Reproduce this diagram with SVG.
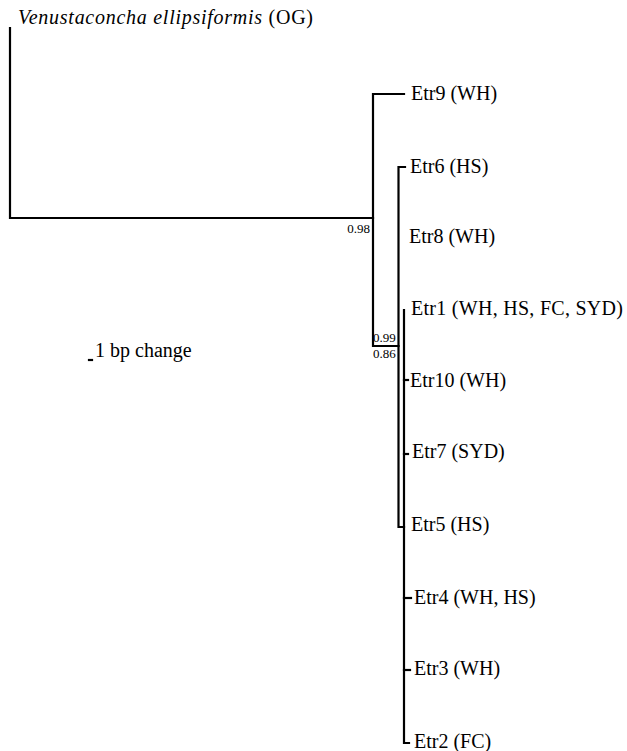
<svg xmlns="http://www.w3.org/2000/svg" width="627" height="751" viewBox="0 0 627 751">
<style>
.br{stroke:#000;stroke-width:2.2;fill:none;stroke-linecap:square}
text{font-family:'Liberation Serif','Times New Roman','DejaVu Serif',serif;fill:#000}
</style>
<rect width="627" height="751" fill="#fff"/>
<g id="connectors">
<path class="br" d="M10,28 V218 H373"/>
<path class="br" d="M404,94 H373 V346 H398.5"/>
<path class="br" d="M405,167 H398.5 V527 H404"/>
<path class="br" d="M404,310 V743 H409"/>
<path class="br" d="M404,380 H408"/>
<path class="br" d="M404,454 H408"/>
<path class="br" d="M404,598 H411"/>
<path class="br" d="M404,670 H410"/>
<path class="br" d="M89,360 H92"/>
</g>
<g font-size="20">
<g id="n-og"><text x="18" y="24" textLength="295" lengthAdjust="spacing"><tspan font-style="italic">Venustaconcha ellipsiformis</tspan> (OG)</text></g>
<g id="n-etr9"><text x="411" y="100">Etr9 (WH)</text></g>
<g id="n-etr6"><text x="410" y="173">Etr6 (HS)</text></g>
<g id="n-etr8"><text x="409" y="243">Etr8 (WH)</text></g>
<g id="n-etr1"><text x="411" y="315" textLength="212" lengthAdjust="spacing">Etr1 (WH, HS, FC, SYD)</text></g>
<g id="n-etr10"><text x="410" y="387">Etr10 (WH)</text></g>
<g id="n-etr7"><text x="412" y="458">Etr7 (SYD)</text></g>
<g id="n-etr5"><text x="411" y="531">Etr5 (HS)</text></g>
<g id="n-etr4"><text x="414" y="604">Etr4 (WH, HS)</text></g>
<g id="n-etr3"><text x="414" y="675">Etr3 (WH)</text></g>
<g id="n-etr2"><text x="414" y="748">Etr2 (FC)</text></g>
<g id="scale"><text x="95" y="357">1 bp change</text></g>
<g id="support" font-size="13">
<text x="370" y="233" text-anchor="end">0.98</text>
<text x="373" y="342">0.99</text>
<text x="373" y="358">0.86</text>
</g>
</g>
</svg>
